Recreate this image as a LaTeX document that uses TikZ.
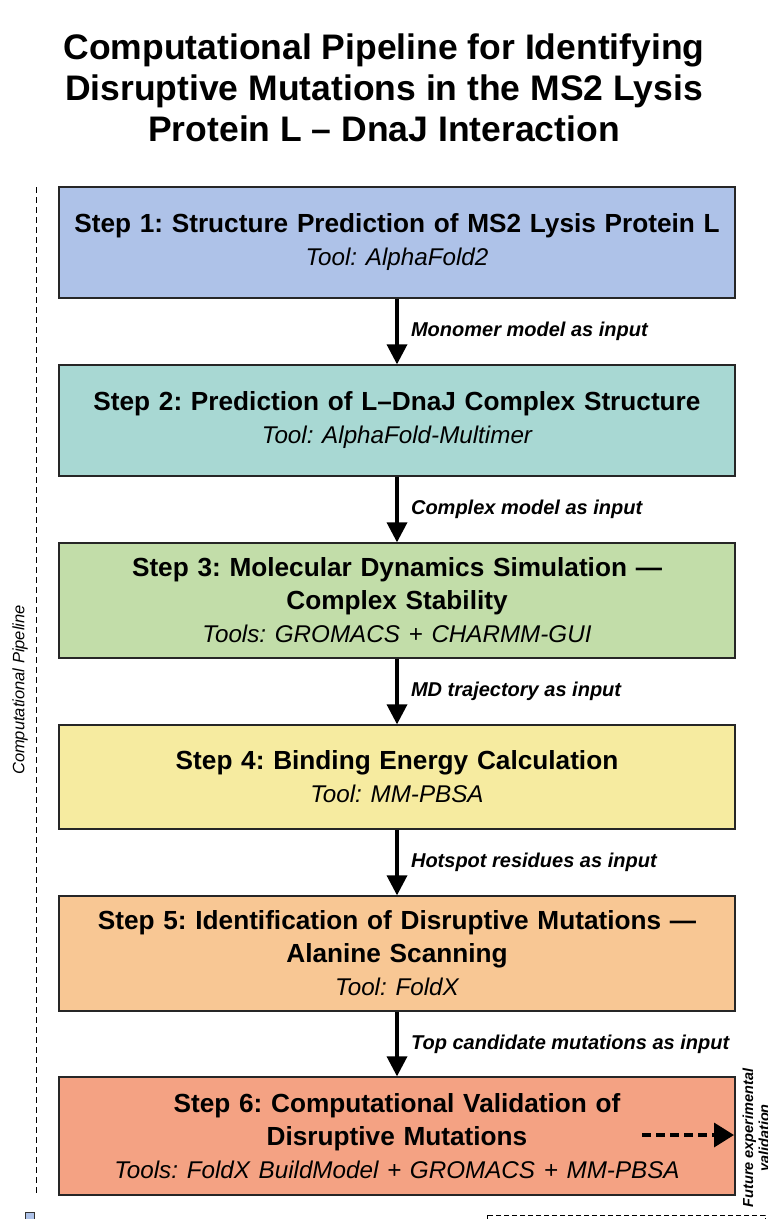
\documentclass[tikz,border=0pt]{standalone}
\usepackage{fontspec}
\setmainfont{Liberation Sans}
\usetikzlibrary{arrows.meta}
\definecolor{cA}{HTML}{AEC2E8}
\definecolor{cB}{HTML}{A8D8D3}
\definecolor{cC}{HTML}{C2DDA9}
\definecolor{cD}{HTML}{F6EBA0}
\definecolor{cE}{HTML}{F8C794}
\definecolor{cF}{HTML}{F4A283}
\frenchspacing
\begin{document}
\begin{tikzpicture}[x=1pt,y=-1pt,
  stepbox/.style={draw=black!85, line width=1.3pt, minimum width=676pt, text width=670pt, align=center, inner sep=0pt,
    font=\fontsize{26.2}{33}\selectfont\bfseries},
  flow/.style={line width=3.5pt, -{Triangle[length=20pt,width=20pt]}},
  flowlabel/.style={anchor=west, xshift=9pt, font=\fontsize{20}{24}\selectfont\bfseries\itshape},
]
\useasboundingbox (0,0) rectangle (768,1219);
\fill[white] (0,0) rectangle (768,1219);

\node[align=center, font=\fontsize{35.5}{41}\selectfont\bfseries] (title) at (384,88)
  {Computational Pipeline for Identifying\\Disruptive Mutations in the MS2 Lysis\\Protein L -- DnaJ Interaction};

\newcommand{\tooltxt}[1]{{\mdseries\itshape\fontsize{24.2}{33}\selectfont #1}}

\node[stepbox, fill=cA, minimum height=111pt] (s1) at (397,242.5)
  {Step 1: Structure Prediction of MS2 Lysis Protein L\\\tooltxt{Tool: AlphaFold2}};
\node[stepbox, fill=cB, minimum height=111pt] (s2) at (397,420.5)
  {Step 2: Prediction of L--DnaJ Complex Structure\\\tooltxt{Tool: AlphaFold-Multimer}};
\node[stepbox, fill=cC, minimum height=115pt] (s3) at (397,600.5)
  {Step 3: Molecular Dynamics Simulation ---\\Complex Stability\\\tooltxt{Tools: GROMACS + CHARMM-GUI}};
\node[stepbox, fill=cD, minimum height=104pt] (s4) at (397,777)
  {Step 4: Binding Energy Calculation\\\tooltxt{Tool: MM-PBSA}};
\node[stepbox, fill=cE, minimum height=115pt] (s5) at (397,953.5)
  {Step 5: Identification of Disruptive Mutations ---\\Alanine Scanning\\\tooltxt{Tool: FoldX}};
\node[stepbox, fill=cF, minimum height=118pt] (s6) at (397,1136)
  {Step 6: Computational Validation of\\Disruptive Mutations\\\tooltxt{Tools: FoldX BuildModel + GROMACS + MM-PBSA}};

\draw[flow] (s1.south) -- (s2.north) node[midway, flowlabel] {Monomer model as input};
\draw[flow] (s2.south) -- (s3.north) node[midway, flowlabel] {Complex model as input};
\draw[flow] (s3.south) -- (s4.north) node[midway, flowlabel] {MD trajectory as input};
\draw[flow] (s4.south) -- (s5.north) node[midway, flowlabel] {Hotspot residues as input};
\draw[flow] (s5.south) -- (s6.north) node[midway, flowlabel] {Top candidate mutations as input};

% pipeline dashed line
\coordinate (pTop) at (36,187);
\coordinate (pBot) at (36,1195);
\draw[line width=1pt, dash pattern=on 6pt off 4pt] (pTop) -- (pBot);
\node[rotate=90, font=\fontsize{16.5}{19}\selectfont\itshape] (plabel) at (20,690) {Computational Pipeline};

% future validation
\node[rotate=90, align=center, font=\fontsize{14.5}{16}\selectfont\bfseries\itshape] (future) at (756,1138)
  {Future experimental\\validation};
\coordinate (dStart) at (642,1135);
\coordinate (dEnd) at (734,1135);
\draw[line width=3.5pt, dash pattern=on 9pt off 5pt, -{Triangle[length=20pt,width=24pt]}] (dStart) -- (dEnd);

% cropped legend fragments
\node[draw=black!80, fill=cA, line width=1pt, minimum size=9pt, inner sep=0pt] (legsq) at (30,1217) {};
\draw[line width=1pt, dash pattern=on 5pt off 3pt] (487,1215) rectangle (765,1240);
\end{tikzpicture}
\end{document}
